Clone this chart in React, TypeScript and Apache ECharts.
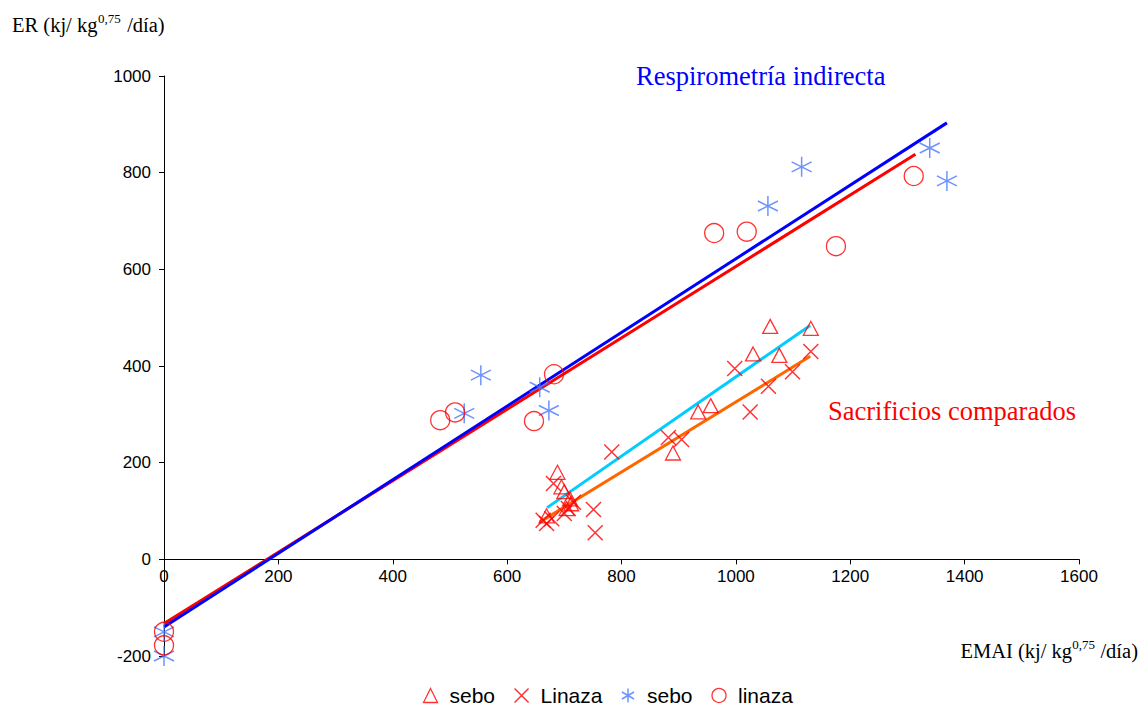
import React, { useEffect, useRef } from "react";
import * as echarts from "echarts";

// Respirometría indirecta
const seboResp: [number, number][] = [
  [0, -150], [0, -200], [525, 302], [554, 381], [657, 356], [673, 308],
  [1056, 731], [1115, 812], [1339, 851], [1369, 783],
];
const linazaResp: [number, number][] = [
  [0, -150], [0, -178], [483, 288], [509, 304], [647, 286], [682, 383],
  [962, 675], [1019, 678], [1175, 648], [1311, 793],
];
// Sacrificios comparados
const seboSacr: [number, number][] = [
  [669, 90], [688, 180], [695, 150], [700, 140], [704, 105], [710, 125], [712, 115],
  [890, 220], [934, 305], [956, 318], [1030, 425], [1060, 482], [1076, 422], [1131, 478],
];
const linazaSacr: [number, number][] = [
  [663, 81], [669, 74], [678, 84], [681, 157], [700, 95], [707, 105], [716, 118],
  [751, 103], [754, 55], [783, 222], [882, 252], [905, 248], [998, 395], [1025, 305],
  [1057, 358], [1099, 388], [1131, 430],
];
// fitted lines
const fitSeboResp: [number, number][] = [[0, -140], [1369, 903]];
const fitLinazaResp: [number, number][] = [[0, -133], [1314, 838]];
const fitSeboSacr: [number, number][] = [[670, 107], [1130, 484]];
const fitLinazaSacr: [number, number][] = [[657, 77], [1130, 420]];

const crossPath = "path://M0,0L10,10M10,0L0,10";
const starPath = "path://M5,0L5,10M0.67,2.5L9.33,7.5M0.67,7.5L9.33,2.5";

const RED = "#ff0000";
const STAR = "#4a78ff";
const SANS = "'Liberation Sans', Arial, sans-serif";
const SERIF = "'Liberation Serif', 'Times New Roman', serif";

const mainFont = { fontFamily: SERIF, fontSize: 20.5, fontWeight: "normal", fill: "#000", verticalAlign: "middle" };
const supFont = { fontFamily: SERIF, fontSize: 13, fontWeight: "normal", fill: "#000", verticalAlign: "middle" };

export default function App() {
  const ref = useRef<HTMLDivElement>(null);
  useEffect(() => {
    if (!ref.current) return;
    const chart = echarts.init(ref.current, null, { renderer: "svg" });
    const scatterStyle = (color: string, bw: number) => ({
      color: "none",
      borderColor: color,
      borderWidth: bw,
    });
    const fitLine = (data: [number, number][], color: string) => ({
      type: "line",
      data,
      showSymbol: false,
      symbol: "none",
      silent: true,
      lineStyle: { color, width: 3 },
      z: 1,
    });
    chart.setOption({
      animation: false,
      grid: { left: 164, right: 62, top: 76, bottom: 51, containLabel: false },
      xAxis: {
        type: "value",
        min: 0,
        max: 1600,
        interval: 200,
        position: "bottom",
        offset: -96.67,
        axisLine: { onZero: false, lineStyle: { color: "#000", width: 1 } },
        axisTick: { show: true, length: 5, lineStyle: { color: "#000" } },
        splitLine: { show: false },
        axisLabel: {
          color: "#000",
          fontFamily: SANS,
          fontSize: 17,
          margin: 9,
          formatter: (v: number) => String(v),
        },
      },
      yAxis: {
        type: "value",
        min: -200,
        max: 1000,
        interval: 200,
        axisLine: { show: true, onZero: false, lineStyle: { color: "#000", width: 1 } },
        axisTick: { show: true, length: 5, lineStyle: { color: "#000" } },
        splitLine: { show: false },
        axisLabel: {
          color: "#000",
          fontFamily: SANS,
          fontSize: 17,
          margin: 13,
          formatter: (v: number) => String(v),
        },
      },
      legend: {
        left: 421,
        top: 685,
        padding: 0,
        itemWidth: 14,
        itemHeight: 14,
        itemGap: 17,
        textStyle: {
          color: "#000",
          fontFamily: SANS,
          fontSize: 21,
          lineHeight: 20,
          padding: [0, 0, 0, 7],
        },
        formatter: (name: string) => name.trim(),
        data: [
          { name: "sebo", icon: "triangle", itemStyle: scatterStyle(RED, 1.3) },
          { name: "Linaza", icon: crossPath, itemStyle: scatterStyle(RED, 1.5) },
          { name: "sebo ", icon: starPath, itemStyle: scatterStyle(STAR, 1.5) },
          { name: "linaza", icon: "circle", itemStyle: scatterStyle(RED, 1.3) },
        ],
      },
      series: [
        fitLine(fitLinazaResp, "#ff0000"),
        fitLine(fitSeboResp, "#0000ff"),
        fitLine(fitSeboSacr, "#00ccff"),
        fitLine(fitLinazaSacr, "#ff6600"),
        {
          name: "sebo",
          type: "scatter",
          data: seboSacr,
          symbol: "triangle",
          symbolSize: [15, 14],
          itemStyle: scatterStyle(RED, 1.3),
          z: 3,
        },
        {
          name: "Linaza",
          type: "scatter",
          data: linazaSacr,
          symbol: crossPath,
          symbolSize: 15,
          itemStyle: scatterStyle(RED, 1.5),
          z: 3,
        },
        {
          name: "sebo ",
          type: "scatter",
          data: seboResp,
          symbol: starPath,
          symbolSize: 20,
          itemStyle: scatterStyle(STAR, 1.5),
          z: 3,
        },
        {
          name: "linaza",
          type: "scatter",
          data: linazaResp,
          symbol: "circle",
          symbolSize: 19,
          itemStyle: scatterStyle(RED, 1.3),
          z: 3,
        },
      ],
      graphic: [
        // y-axis title
        { type: "text", x: 12, y: 25, style: { ...mainFont, text: "ER (kj/ kg" } },
        { type: "text", x: 98, y: 18, style: { ...supFont, text: "0,75" } },
        { type: "text", x: 122, y: 25, style: { ...mainFont, text: " /día)" } },
        // x-axis title
        { type: "text", x: 1138, y: 651, style: { ...mainFont, align: "right", text: " /día)" } },
        { type: "text", x: 1095, y: 644, style: { ...supFont, align: "right", text: "0,75" } },
        { type: "text", x: 1072, y: 651, style: { ...mainFont, align: "right", text: "EMAI (kj/ kg" } },
        {
          type: "text",
          x: 636,
          y: 76,
          style: {
            text: "Respirometría indirecta",
            fontFamily: SERIF,
            fontSize: 26.5,
            fill: "#0000ff",
            verticalAlign: "middle",
          },
        },
        {
          type: "text",
          x: 828,
          y: 411,
          style: {
            text: "Sacrificios comparados",
            fontFamily: SERIF,
            fontSize: 26.5,
            fill: "#ff0000",
            verticalAlign: "middle",
          },
        },
      ],
    });
    return () => chart.dispose();
  }, []);
  return (
    <div
      ref={ref}
      style={{ position: "fixed", left: 0, top: 0, width: 1141, height: 707, background: "#fff" }}
    />
  );
}
